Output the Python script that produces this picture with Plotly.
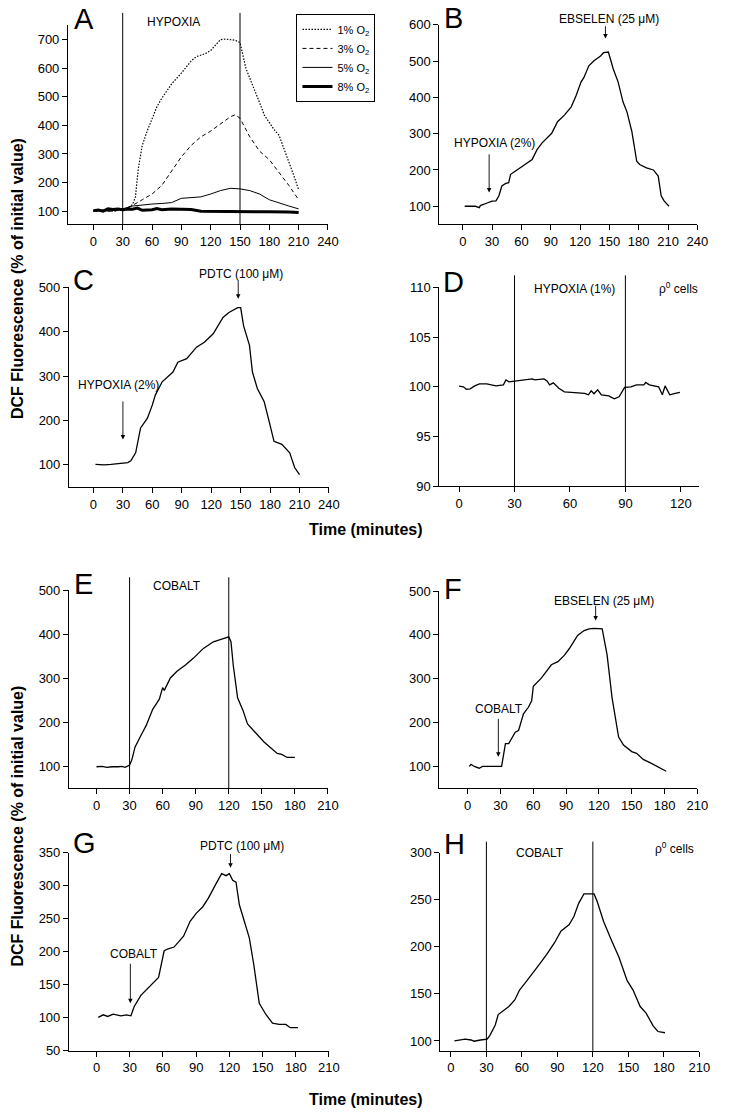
import plotly.graph_objects as go

W, H = 730, 1120

# ---------------- DATA ----------------
# Panel A: hypoxia at different O2 levels
a1_t = [0, 10, 20, 30, 35, 40, 43, 46, 48, 50, 55, 60, 65, 70, 80, 90, 100, 105, 110, 115, 120, 125, 130, 135, 140, 145, 150, 153, 156, 160, 165, 170, 175, 180, 185, 190, 195, 200, 205, 210]
a1_v = [100, 102, 100, 105, 110, 123, 150, 250, 295, 330, 380, 425, 465, 495, 545, 583, 625, 640, 645, 652, 662, 683, 700, 702, 700, 698, 690, 640, 600, 565, 525, 480, 435, 410, 385, 365, 320, 270, 225, 175]
a3_t = [0, 10, 20, 30, 40, 50, 60, 70, 80, 90, 100, 110, 120, 130, 140, 145, 150, 160, 170, 180, 190, 200, 210]
a3_v = [100, 101, 100, 105, 120, 140, 160, 190, 240, 290, 330, 360, 380, 405, 430, 437, 425, 360, 310, 280, 235, 190, 140]
a5_t = [0, 10, 20, 30, 40, 50, 60, 70, 80, 90, 100, 110, 120, 130, 140, 150, 160, 170, 180, 190, 200, 210]
a5_v = [102, 104, 103, 108, 118, 122, 125, 127, 130, 145, 148, 150, 160, 172, 180, 178, 172, 160, 140, 128, 118, 108]
a8_t = [0, 5, 10, 15, 20, 25, 30, 35, 40, 45, 50, 55, 60, 65, 70, 80, 90, 100, 110, 120, 140, 160, 180, 200, 210]
a8_v = [102, 104, 100, 108, 106, 108, 105, 108, 107, 111, 103, 104, 105, 109, 105, 108, 108, 106, 100, 100, 100, 98, 98, 97, 95]

# Panel B: hypoxia (2%) then ebselen
b_t = [2, 13, 17, 18, 25, 30, 34, 37, 40, 44, 47, 49, 54, 64, 71, 76, 81, 91, 97, 104, 111, 116, 121, 124, 129, 134, 141, 144, 149, 154, 159, 164, 168, 173, 178, 181, 188, 195, 200, 203, 206, 211]
b_v = [100, 100, 96, 102, 109, 114, 115, 129, 156, 163, 165, 188, 197, 215, 229, 256, 274, 301, 333, 351, 374, 405, 442, 455, 487, 500, 514, 523, 525, 478, 442, 387, 360, 306, 224, 215, 206, 200, 183, 129, 115, 100]

# Panel C: hypoxia (2%) then PDTC
c_t = [2, 11, 18, 35, 38, 43, 48, 55, 60, 63, 70, 81, 86, 95, 105, 113, 122, 127, 132, 138, 147, 150, 153, 159, 162, 167, 174, 179, 184, 192, 200, 205, 210]
c_v = [101, 100, 101, 105, 109, 127, 183, 205, 235, 257, 287, 309, 331, 339, 365, 376, 395, 413, 432, 443, 454, 454, 413, 369, 309, 272, 242, 198, 153, 146, 127, 94, 78]

# Panel D: rho0 cells, hypoxia (1%)
d_t = [0, 2.3, 4, 6, 8.5, 11, 15, 20, 24, 25.4, 27, 31, 34, 39.6, 41, 46, 47.6, 49, 51, 54, 57, 61, 68, 70, 71.5, 73, 75, 77, 81, 84, 86.6, 89.6, 93, 96, 100, 101, 103, 108, 110, 111.5, 114, 117, 119.5]
d_v = [100.08, 100.0, 99.75, 99.8, 100.1, 100.3, 100.3, 100.1, 100.2, 100.7, 100.5, 100.6, 100.7, 100.8, 100.7, 100.8, 100.6, 100.2, 100.4, 99.85, 99.5, 99.45, 99.35, 99.2, 99.6, 99.3, 99.7, 99.2, 99.1, 98.8, 99.0, 99.95, 100.0, 100.2, 100.2, 100.45, 100.2, 100.0, 99.2, 100.1, 99.2, 99.35, 99.45]

# Panel E: cobalt
e_t = [0, 5, 9.5, 14, 20, 23, 26, 30, 32, 35, 41, 45, 51, 57, 60, 61.5, 67, 73, 81, 88, 97, 106, 115, 120, 122, 124, 128, 133, 137, 145, 152, 159, 164, 168, 173, 180]
e_v = [100, 101, 98.5, 100, 100, 101, 98.5, 104, 115, 145, 174, 193, 230, 253, 279, 273, 301, 316, 331, 346, 368, 383, 390, 394, 383, 331, 256, 227, 197, 175, 156, 141, 130, 128, 121, 121]

# Panel F: cobalt then ebselen
f_t = [1.5, 3, 6, 10.5, 13.5, 25.5, 31, 33, 34.5, 37.5, 43.5, 46.5, 51, 55.5, 58.5, 60, 67.5, 76.5, 82.5, 88.5, 93, 100.5, 106.5, 111, 115.5, 123, 127.5, 132, 138, 142.5, 150, 154.5, 160.5, 168, 175.5, 181.5]
f_v = [100, 105, 100, 96, 100, 100, 100, 130, 152, 152, 178, 182, 220, 235, 250, 283, 302, 332, 339, 354, 369, 399, 410, 414, 415, 414, 354, 257, 167, 149, 134, 130, 116, 107, 96, 89]

# Panel G: cobalt then PDTC
g_t = [1.5, 6, 10, 15, 22, 27, 31, 34, 40, 44.5, 52, 56, 61, 64, 70, 74, 78.6, 84.5, 90, 96, 101, 108, 113, 117, 120, 123, 126, 129, 133.5, 138, 142, 147, 153, 159, 165, 171, 175, 182]
g_v = [100.6, 104.5, 102, 105.5, 103, 104.5, 103, 117, 134, 142, 154, 161, 201, 204, 207, 214, 223.5, 246, 258, 268, 281, 303, 318, 315, 318, 308, 305, 271, 246, 221, 181, 122, 105, 92, 90, 90, 85, 85]

# Panel H: rho0 cells, cobalt
h_t = [3, 10, 12, 17, 19.5, 25, 30.6, 33, 37.5, 40, 49, 54, 58, 62.5, 67, 74, 81, 87.5, 93, 100, 104, 108, 112.5, 121, 123.7, 129, 136, 142, 149, 154, 160, 165, 171, 175, 181]
h_v = [100, 101, 102, 101, 99.7, 101, 102, 106, 117, 128, 136.5, 143.5, 154, 161, 168, 180, 192, 204, 216.5, 223.5, 232, 246, 256, 256, 248, 227, 206, 189, 164, 154, 136.5, 129.5, 116, 110, 108.7]

# Axis ticks
ticks_x240 = [0, 30, 60, 90, 120, 150, 180, 210, 240]
ticks_x210 = [0, 30, 60, 90, 120, 150, 180, 210]
ticks_x120 = [0, 30, 60, 90, 120]

# ---------------- LAYOUT GEOMETRY (pixels) ----------------
def px(x):
    return x / W

def py(y):
    return 1 - y / H

panels = {
    # name: (x0, x1, ytop, ybottom, xrange, yrange, xticks, yticks)
    "A": (69, 333, 18, 220, [-26, 240], [55, 752], ticks_x240, [100, 200, 300, 400, 500, 600, 700]),
    "B": (446, 708, 18, 220, [-24, 240], [51, 600], ticks_x240, [100, 200, 300, 400, 500, 600]),
    "C": (70, 334, 284, 487, [-25, 240], [49, 500], ticks_x240, [100, 200, 300, 400, 500]),
    "D": (446, 710, 284, 486, [-10.7, 130], [90, 110], ticks_x120, [90, 95, 100, 105, 110]),
    "E": (70, 333, 591, 792, [-25, 210], [51, 500], ticks_x210, [100, 200, 300, 400, 500]),
    "F": (446, 708, 592, 792, [-26, 210], [50, 500], ticks_x210, [100, 200, 300, 400, 500]),
    "G": (70, 334, 857, 1058, [-25, 210], [50, 350], ticks_x210, [50, 100, 150, 200, 250, 300, 350]),
    "H": (447, 710, 857, 1058, [-9, 210], [89.5, 300], ticks_x210, [100, 150, 200, 250, 300]),
}
order = ["A", "B", "C", "D", "E", "F", "G", "H"]

FONT = "Liberation Sans, Arial, sans-serif"
fig = go.Figure()

layout = dict(
    width=W, height=H,
    margin=dict(l=0, r=0, t=0, b=0),
    paper_bgcolor="white", plot_bgcolor="white",
    font=dict(family=FONT, size=13, color="black"),
    showlegend=True,
)

axref = {}
for i, k in enumerate(order):
    n = "" if i == 0 else str(i + 1)
    x0, x1, yt, yb, xr, yr, xt, yt_ = panels[k]
    axref[k] = ("x" + n, "y" + n)
    common = dict(showgrid=False, zeroline=False, showline=True, linecolor="black", linewidth=1,
                  ticks="outside", ticklen=5, tickwidth=1, tickcolor="black",
                  tickfont=dict(family=FONT, size=13, color="black"), fixedrange=True)
    layout["xaxis" + n] = dict(domain=[px(x0), px(x1)], range=xr, tickvals=xt,
                               anchor="y" + n, **common)
    layout["yaxis" + n] = dict(domain=[py(yb), py(yt)], range=yr, tickvals=yt_,
                               anchor="x" + n, **common)

fig.update_layout(**layout)

line_kw = dict(color="black", width=1.3)

def add(k, t, v, **kw):
    xa, ya = axref[k]
    fig.add_trace(go.Scatter(x=t, y=v, mode="lines", xaxis=xa, yaxis=ya,
                             showlegend=kw.pop("showlegend", False), **kw))

add("A", a1_t, a1_v, line=dict(color="black", width=1.2, dash="1.5px,1.5px"), name="1% O<sub>2</sub>", showlegend=True)
add("A", a3_t, a3_v, line=dict(color="black", width=1, dash="4px,3px"), name="3% O<sub>2</sub>", showlegend=True)
add("A", a5_t, a5_v, line=dict(color="black", width=1), name="5% O<sub>2</sub>", showlegend=True)
add("A", a8_t, a8_v, line=dict(color="black", width=3), name="8% O<sub>2</sub>", showlegend=True)
add("B", b_t, b_v, line=line_kw)
add("C", c_t, c_v, line=line_kw)
add("D", d_t, d_v, line=line_kw)
add("E", e_t, e_v, line=line_kw)
add("F", f_t, f_v, line=line_kw)
add("G", g_t, g_v, line=line_kw)
add("H", h_t, h_v, line=line_kw)

fig.update_layout(legend=dict(x=px(301), y=py(7), xanchor="left", yanchor="top",
                              bordercolor="black", borderwidth=1, bgcolor="white",
                              font=dict(family=FONT, size=11, color="black"),
                              tracegroupgap=0, itemwidth=30))

# vertical event lines (x in data coords, y spans in paper)
vlines = [("A", 30, 6), ("A", 150, 6), ("D", 30, 272), ("D", 90, 272),
          ("E", 30, 578), ("E", 120, 578), ("H", 30, 846), ("H", 120, 846)]
shapes = []
for k, xv, top in vlines:
    xa, ya = axref[k]
    yb = panels[k][3]
    shapes.append(dict(type="line", xref=xa, yref="paper", x0=xv, x1=xv,
                       y0=py(yb), y1=py(top), line=dict(color="black", width=1)))
fig.update_layout(shapes=shapes)

anns = []
# panel letters
letters = {"A": (85, 12), "B": (460, 11), "C": (85, 277), "D": (460, 279),
           "E": (85, 585), "F": (460, 590), "G": (86, 847), "H": (461, 848)}
for k, (lx, ly) in letters.items():
    anns.append(dict(text=k, x=px(lx), y=py(ly), xref="paper", yref="paper", showarrow=False,
                     font=dict(family=FONT, size=29, color="black"), xanchor="center", yanchor="middle"))

def label(k, text, x, y, size=12):
    xa, ya = axref[k]
    anns.append(dict(text=text, x=x, y=y, xref=xa, yref=ya, showarrow=False,
                     font=dict(family=FONT, size=size, color="black"), xanchor="center", yanchor="middle"))

def toplabel(k, text, x, ypix, size=12):
    # x in data units, vertical position in page pixels (above the plot area)
    xa, ya = axref[k]
    anns.append(dict(text=text, x=x, y=py(ypix), xref=xa, yref="paper", showarrow=False,
                     font=dict(family=FONT, size=size, color="black"), xanchor="center", yanchor="middle"))

def arrow(k, x, y_tail, y_tip):
    xa, ya = axref[k]
    anns.append(dict(text="", x=x, y=y_tip, ax=x, ay=y_tail, xref=xa, yref=ya, axref=xa, ayref=ya,
                     showarrow=True, arrowhead=2, arrowsize=1, arrowwidth=0.9, arrowcolor="black"))

toplabel("A", "HYPOXIA", 82, 15)
toplabel("B", "EBSELEN (25 μM)", 150, 12.5)
arrow("B", 146, 600, 562)
label("B", "HYPOXIA (2%)", 32, 274)
arrow("B", 27, 247, 138)
toplabel("C", "PDTC (100 μM)", 150, 271)
arrow("C", 147.5, 517, 474)
label("C", "HYPOXIA (2%)", 25, 280)
arrow("C", 30, 246, 157)
toplabel("D", "HYPOXIA (1%)", 62.7, 285.5)
toplabel("D", "ρ<sup>0</sup> cells", 119, 285)
toplabel("E", "COBALT", 73, 587)
label("F", "EBSELEN (25 μM)", 125, 478)
arrow("F", 117, 470, 433)
label("F", "COBALT", 29, 231)
arrow("F", 28, 212, 122)
toplabel("G", "PDTC (100 μM)", 131, 850)
arrow("G", 121, 350, 327)
label("G", "COBALT", 34, 196)
arrow("G", 30.5, 184, 122)
toplabel("H", "COBALT", 75, 857)
toplabel("H", "ρ<sup>0</sup> cells", 189, 852)

# axis titles
for yc in (275, 830):
    anns.append(dict(text="<b>DCF Fluorescence (% of initial value)</b>", x=px(18), y=py(yc),
                     xref="paper", yref="paper", showarrow=False, textangle=-90,
                     font=dict(family=FONT, size=16, color="black"), xanchor="center", yanchor="middle"))
for yc in (530, 1107):
    anns.append(dict(text="<b>Time (minutes)</b>", x=px(372), y=py(yc), xref="paper", yref="paper",
                     showarrow=False, font=dict(family=FONT, size=16, color="black"),
                     xanchor="center", yanchor="middle"))

fig.update_layout(annotations=anns)

page_js = (
    "var s=document.documentElement.style;s.margin='0';s.padding='0';s.overflow='hidden';"
    "var b=document.body.style;b.margin='0';b.padding='0';b.overflow='hidden';"
    "var g=document.querySelector('.plotly-graph-div');"
    "if(g){g.style.position='absolute';g.style.left='0px';g.style.top='0px';}"
)
fig.write_html("out.html", config={"displayModeBar": False}, post_script=page_js)
